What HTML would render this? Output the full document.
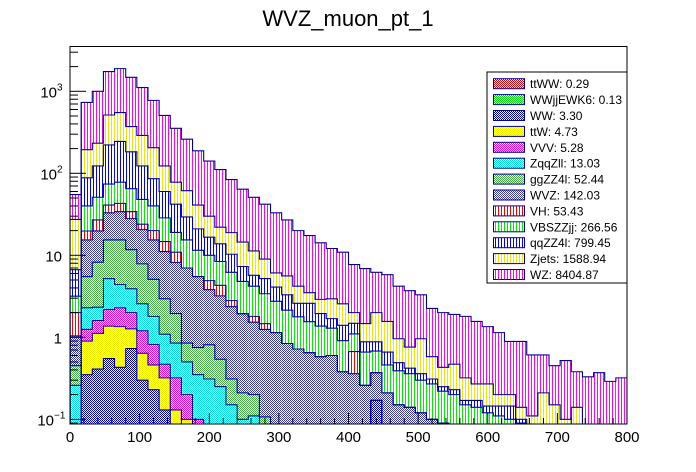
<!DOCTYPE html>
<html><head><meta charset="utf-8"><style>
html,body{margin:0;padding:0;background:#fff;}
svg{display:block;font-family:"Liberation Sans",Arial,sans-serif;}
</style></head><body>
<svg id="chart" width="696" height="472" viewBox="0 0 696 472" xmlns="http://www.w3.org/2000/svg">
<defs>
<pattern id="v-ff00ff" width="3" height="2" patternUnits="userSpaceOnUse"><rect width="3" height="2" fill="#fff"/><rect width="1" height="2" fill="#ff00ff"/></pattern>
<pattern id="v-ffff00" width="3" height="2" patternUnits="userSpaceOnUse"><rect width="3" height="2" fill="#fff"/><rect width="1" height="2" fill="#e8e800"/></pattern>
<pattern id="v-0000ff" width="3" height="2" patternUnits="userSpaceOnUse"><rect width="3" height="2" fill="#fff"/><rect width="1" height="2" fill="#0000ff"/></pattern>
<pattern id="v-00ff00" width="3" height="2" patternUnits="userSpaceOnUse"><rect width="3" height="2" fill="#fff"/><rect width="1" height="2" fill="#00ee00"/></pattern>
<pattern id="v-ff0000" width="3" height="2" patternUnits="userSpaceOnUse"><rect width="3" height="2" fill="#fff"/><rect width="1" height="2" fill="#ff0000"/></pattern>
<pattern id="c-wvz" width="2" height="2" patternUnits="userSpaceOnUse"><rect width="2" height="2" fill="#fff"/><rect width="1" height="1" fill="#3a3aa8"/><rect x="1" y="1" width="1" height="1" fill="#3a3aa8"/></pattern>
<pattern id="c-gg" width="2" height="2" patternUnits="userSpaceOnUse"><rect width="2" height="2" fill="#fff"/><rect width="1" height="1" fill="#44aa44"/><rect x="1" y="1" width="1" height="1" fill="#44aa44"/></pattern>
<pattern id="c-cyan" width="2" height="2" patternUnits="userSpaceOnUse"><rect width="2" height="2" fill="#fff"/><rect width="1" height="1" fill="#00e0e0"/><rect x="1" y="1" width="1" height="1" fill="#00e0e0"/></pattern>
<pattern id="c-mag" width="2" height="2" patternUnits="userSpaceOnUse"><rect width="2" height="2" fill="#fff"/><rect width="1" height="1" fill="#ee00ee"/><rect x="1" y="1" width="1" height="1" fill="#ee00ee"/></pattern>
<pattern id="c-yel" width="2" height="2" patternUnits="userSpaceOnUse"><rect width="2" height="2" fill="#ffff66"/><rect width="1" height="1" fill="#eeee00"/><rect x="1" y="1" width="1" height="1" fill="#eeee00"/></pattern>
<pattern id="c-navy" width="2" height="2" patternUnits="userSpaceOnUse"><rect width="2" height="2" fill="#fff"/><rect width="1" height="1" fill="#0000cc"/><rect x="1" y="1" width="1" height="1" fill="#0000cc"/></pattern>
<pattern id="c-lgreen" width="2" height="2" patternUnits="userSpaceOnUse"><rect width="2" height="2" fill="#fff"/><rect width="1" height="1" fill="#00dd00"/><rect x="1" y="1" width="1" height="1" fill="#00dd00"/></pattern>
<pattern id="c-red" width="2" height="2" patternUnits="userSpaceOnUse"><rect width="2" height="2" fill="#fff"/><rect width="1" height="1" fill="#dd0000"/><rect x="1" y="1" width="1" height="1" fill="#dd0000"/></pattern>
<clipPath id="frame-clip"><rect x="70" y="46.5" width="557" height="377.5"/></clipPath>
</defs>
<text x="348" y="26" font-size="22" text-anchor="middle" fill="#000">WVZ_muon_pt_1</text>
<g id="bars" clip-path="url(#frame-clip)"></g>
<g id="outlines" clip-path="url(#frame-clip)"></g>
<g id="axes"></g>
<g id="legend"></g>
</svg>
<script>
// ---- data (bins of 16 GeV, 0-800) ----
const seriesNames = ["ttWW","WWjjEWK6","WW","ttW","VVV","ZqqZll","ggZZ4l","WVZ","VH","VBSZZjj","qqZZ4l","Zjets","WZ"];
const legendTotals = ["0.29","0.13","3.30","4.73","5.28","13.03","52.44","142.03","53.43","266.56","799.45","1588.94","8404.87"];
const xTickLabels = ["0","100","200","300","400","500","600","700","800"];
const yTickValues = [0.1,1,10,100,1000];
const yTickLabels = ["10","1","10","10","10"];
const yTickExps = ["−1","","","2","3"];
const ttWW = [0,0,0,0,0,0,0,0,0,0,0,0,0,0,0,0,0,0,0,0,0,0,0,0,0,0,0,0,0,0,0,0,0,0,0,0,0,0,0,0,0,0,0,0,0,0,0,0,0,0];
const WWjjEWK6 = [0,0,0,0,0,0,0,0,0,0,0,0,0,0,0,0,0,0,0,0,0,0,0,0,0,0,0,0,0,0,0,0,0,0,0,0,0,0,0,0,0,0,0,0,0,0,0,0,0,0];
const WW = [0,0.35,0.41,0.55,0.43,0.73,0.3,0.23,0.13,0,0,0,0,0,0,0,0,0,0,0,0,0,0,0,0,0,0,0.17,0,0,0,0,0,0,0,0,0,0,0,0,0,0,0,0,0,0,0,0,0,0];
const ttW = [0,0.55,0.71,0.82,0.92,0.54,0.34,0.23,0.19,0.13,0.1,0,0,0,0,0,0,0,0,0,0,0,0,0,0,0,0,0,0,0,0,0,0,0,0,0,0,0,0,0,0,0,0,0,0,0,0,0,0,0];
const VVV = [0,0.35,0.48,0.81,0.94,0.73,0.56,0.36,0.15,0.19,0.1,0.1,0,0,0,0,0,0,0,0,0,0,0,0,0,0,0,0,0,0,0,0,0,0,0,0,0,0,0,0,0,0,0,0,0,0,0,0,0,0];
const ZqqZll = [0.26,1.04,0.73,3.0,2.1,1.9,1.36,0.98,0.62,0.53,0.3,0.25,0.31,0.25,0.15,0.1,0.11,0,0,0,0,0,0,0,0,0,0,0,0,0,0,0,0,0,0,0,0,0,0,0,0,0,0,0,0,0,0,0,0,0];
const ggZZ4l = [0.19,3.2,5.9,10.2,11,7.8,5.3,3.3,1.86,1.1,0.35,0.4,0.5,0.29,0.16,0.11,0.09,0.107,0,0,0,0,0,0,0,0,0,0,0,0,0,0,0,0,0,0,0,0,0,0,0,0,0,0,0,0,0,0,0,0];
const WVZ = [0.59,9.9,11.6,17.6,18.6,16.3,12.7,10.3,8.15,6.25,6.15,4.75,3.0,2.66,2.05,1.73,1.33,1.14,1.14,0.84,0.72,0.65,0.58,0.6,0.38,0.36,0.26,0.2,0.21,0.15,0.14,0.12,0.1,0.09,0,0,0,0,0,0,0,0,0,0,0,0,0,0,0,0];
const VH = [0.96,4.4,7.2,8,9,6,3.4,4.6,3.6,2.7,0,0,1.1,1.1,0.44,0,0.27,0.22,0,0,0,0,0,0,0,0.31,0,0,0,0,0,0,0,0,0,0,0,0,0,0,0,0,0,0,0,0,0,0,0,0];
const VBSZZjj = [1.17,20.2,24,33,35,31,24,20,13.9,8.1,8.4,6,5.1,4.1,3.4,2.86,2.4,1.93,1.61,1.3,1.06,0.9,0.79,0.69,0.53,0.43,0.4,0.31,0.25,0.24,0.22,0.18,0.17,0.13,0.2,0.15,0.14,0.12,0.11,0.1,0.09,0.08,0,0,0,0,0,0,0,0];
const qqZZ4l = [3.5,48,72,148,167,118,75,46,31.4,23,14,9.5,6.6,5.4,4.1,2.5,1.5,1.8,1.35,1.16,0.82,1.05,0.58,0.4,0.49,0.38,0.22,0.2,0.2,0.1,0.06,0.06,0.04,0.03,0.03,0.02,0.03,0.025,0.035,0.045,0.01,0,0,0,0,0,0,0,0,0];
const Zjets = [20.7,106,110,292,305,189,167,119,63,36,32,20,13.4,8.2,8.6,7.2,5.6,3.8,2.0,2.3,1.6,0.9,0.95,1.26,1.16,0.52,0.59,1.12,0.9,0.47,0.34,0.6,0.27,0.18,0.24,0.15,0.1,0.125,0.055,0.055,0.04,0.03,0.21,0.15,0.1,0.14,0,0,0,0];
const WZ = [27.6,537,767,1226,1340,1108,820,570,385,276,199,147,111,89,65,49.5,39.7,33,26.9,21.4,15.8,13.9,11.3,9.15,8.34,5.7,5.43,4.2,4.24,3.24,2.94,2.34,1.67,1.57,1.43,1.48,1.29,1.08,0.94,0.69,0.75,0.5,0.4,0.3,0.42,0.24,0.33,0.37,0.29,0.32];

const seriesValues = [ttWW,WWjjEWK6,WW,ttW,VVV,ZqqZll,ggZZ4l,WVZ,VH,VBSZZjj,qqZZ4l,Zjets,WZ];
const seriesFill = ["url(#c-red)","url(#c-lgreen)","url(#c-navy)","url(#c-yel)","url(#c-mag)","url(#c-cyan)","url(#c-gg)","url(#c-wvz)","url(#v-ff0000)","url(#v-00ff00)","url(#v-0000ff)","url(#v-ffff00)","url(#v-ff00ff)"];

// ---- axes ----
const X0=70, X1=627, YT=46.5, YB=424;
const xMin=0, xMax=800, nBins=50, binW=(xMax-xMin)/nBins;
function xPix(v){return X0+(v-xMin)/(xMax-xMin)*(X1-X0);}
function yPix(v){ if(v<=0) return YB+5; return 337.3-82*Math.log10(v);}
const NS="http://www.w3.org/2000/svg";
function mk(tag,attrs,parent){const e=document.createElementNS(NS,tag);for(const k in attrs)e.setAttribute(k,attrs[k]);parent.appendChild(e);return e;}

const bars=document.getElementById('bars'), outl=document.getElementById('outlines');
const cum=new Array(nBins).fill(0);
seriesValues.forEach((vals,s)=>{
  const g=mk('g',{},bars);
  
  
  let d='';
  for(let i=0;i<nBins;i++){
    const lo=cum[i], hi=cum[i]+vals[i];
    const xa=xPix(i*binW), xb=xPix((i+1)*binW);
    if(vals[i]>0){
      const yt=yPix(hi), yb=lo>0?yPix(lo):YB+5;
      const r=mk('rect',{x:xa,y:yt,width:xb-xa,height:Math.max(0,yb-yt),fill:seriesFill[s]},g);
      
      
    }
    const yy=hi>0?yPix(hi):YB+5;
    d+=(i===0?'M'+xa+','+(YB+5)+' L'+xa+','+yy:' L'+xa+','+yy)+' L'+xb+','+yy;
    cum[i]=hi;
  }
  d+=' L'+xPix(xMax)+','+(YB+5);
  if(vals.some(v=>v>0)){
    const p=mk('path',{d:d,fill:'none',stroke:'#000099','stroke-width':1.1},outl);
    
    
  }
});

const ax=document.getElementById('axes');
const fr=mk('rect',{x:X0,y:YT,width:X1-X0,height:YB-YT,fill:'none',stroke:'#000','stroke-width':1},ax);


for(let v=0;v<=800;v+=20){
  const major=v%100===0;
  const t=mk('line',{x1:xPix(v),x2:xPix(v),y1:YB,y2:YB-(major?11:6),stroke:'#000','stroke-width':1},ax);
  
  
}
xTickLabels.forEach((lab,i)=>{
  const t=mk('text',{x:xPix(i*100),y:442,'font-size':15,'text-anchor':'middle',fill:'#000'},ax);
  t.textContent=lab;
  
  
});
for(let e=-2;e<=3;e++){
  for(let m=1;m<10;m++){
    const v=m*Math.pow(10,e);
    const y=yPix(v);
    if(y<YT||y>YB) continue;
    const t=mk('line',{x1:X0,x2:X0+(m===1?16:8),y1:y,y2:y,stroke:'#000','stroke-width':1},ax);
    
    
  }
}
yTickValues.forEach((v,i)=>{
  const y=yPix(v);
  const t=mk('text',{x:yTickExps[i]?(yTickExps[i].length>1?54:57):62,y:y+6,'font-size':15,'text-anchor':'end',fill:'#000'},ax);
  t.textContent=yTickLabels[i];
  
  
  if(yTickExps[i]){
    const s=mk('text',{x:yTickExps[i].length>1?54:57,y:y-1,'font-size':10,'text-anchor':'start',fill:'#000'},ax);
    s.textContent=yTickExps[i];
    
    
  }
});

const lg=document.getElementById('legend');
const lb=mk('rect',{x:487,y:72,width:140,height:211,fill:'#fff',stroke:'#000','stroke-width':1},lg);


seriesNames.forEach((n,i)=>{
  const y=83.7+i*15.9;
  const g=mk('g',{},lg);
  
  
  mk('rect',{x:493.5,y:y-5,width:31,height:10,fill:seriesFill[i],stroke:'#000099','stroke-width':1},g);
  const t=mk('text',{x:530,y:y+4.5,'font-size':12,fill:'#000'},g);
  t.textContent=n+': '+legendTotals[i];
});
</script>
</body></html>
